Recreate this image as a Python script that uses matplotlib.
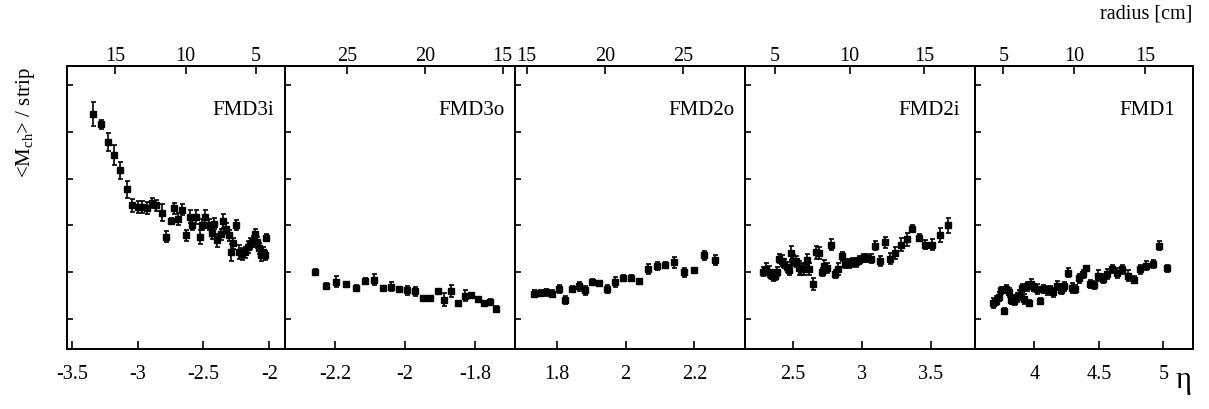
import matplotlib
matplotlib.use('Agg')
import matplotlib.pyplot as plt
from matplotlib.ticker import FormatStrFormatter

# Times-like serif font, ROOT style
plt.rcParams['font.family'] = ['Liberation Serif', 'DejaVu Serif']
plt.rcParams['mathtext.fontset'] = 'custom'
plt.rcParams['mathtext.rm'] = 'Liberation Serif'
plt.rcParams['axes.unicode_minus'] = False

# ============ data (eta, <M_ch>/strip in arbitrary units, error) ============
names = ['FMD3i', 'FMD3o', 'FMD2o', 'FMD2i', 'FMD1']

eta_fmd3i = [-3.336, -3.281, -3.228, -3.177, -3.130, -3.082, -3.044, -2.996, -2.963, -2.928,
             -2.888, -2.857, -2.815, -2.782, -2.749, -2.722, -2.691, -2.661, -2.636, -2.606,
             -2.585, -2.560, -2.530, -2.510, -2.485, -2.462, -2.439, -2.417, -2.394, -2.369,
             -2.349, -2.329, -2.306, -2.288, -2.273, -2.253, -2.228, -2.208, -2.188, -2.165,
             -2.147, -2.127, -2.107, -2.092, -2.077, -2.062, -2.046, -2.036, -2.024]
mult_fmd3i = [5.38, 5.16, 4.79, 4.50, 4.18, 3.77, 3.43, 3.39, 3.39, 3.38,
              3.48, 3.43, 3.27, 2.76, 3.09, 3.37, 3.14, 3.34, 2.79, 3.19,
              3.02, 3.19, 2.76, 3.02, 3.19, 3.02, 2.84, 3.04, 2.68, 2.81,
              3.09, 2.93, 2.79, 2.43, 2.62, 3.01, 2.43, 2.39, 2.43, 2.54,
              2.61, 2.66, 2.81, 2.64, 2.51, 2.36, 2.44, 2.36, 2.74]
err_fmd3i = [0.26, 0.10, 0.19, 0.21, 0.18, 0.18, 0.14, 0.13, 0.13, 0.13,
             0.10, 0.12, 0.18, 0.12, 0.06, 0.12, 0.12, 0.12, 0.12, 0.13,
             0.12, 0.15, 0.15, 0.12, 0.15, 0.12, 0.12, 0.12, 0.14, 0.12,
             0.15, 0.12, 0.12, 0.18, 0.12, 0.10, 0.15, 0.12, 0.12, 0.12,
             0.12, 0.12, 0.12, 0.12, 0.12, 0.12, 0.10, 0.10, 0.08]

eta_fmd3o = [-2.257, -2.227, -2.197, -2.169, -2.141, -2.116, -2.090, -2.064, -2.040, -2.017,
             -1.995, -1.972, -1.950, -1.929, -1.907, -1.888, -1.868, -1.848, -1.829, -1.811,
             -1.793, -1.775, -1.758, -1.740]
mult_fmd3o = [2.00, 1.71, 1.80, 1.74, 1.66, 1.81, 1.84, 1.66, 1.69, 1.64,
              1.61, 1.59, 1.44, 1.44, 1.59, 1.41, 1.60, 1.34, 1.50, 1.51,
              1.43, 1.34, 1.36, 1.21]
err_fmd3o = [0.06, 0.05, 0.12, 0.06, 0.06, 0.06, 0.12, 0.05, 0.10, 0.05,
             0.10, 0.10, 0.06, 0.05, 0.06, 0.14, 0.12, 0.05, 0.12, 0.05,
             0.05, 0.05, 0.06, 0.07]

eta_fmd2o = [1.734, 1.752, 1.769, 1.787, 1.806, 1.824, 1.844, 1.864, 1.883, 1.904,
             1.924, 1.947, 1.970, 1.993, 2.015, 2.040, 2.065, 2.090, 2.116, 2.142,
             2.170, 2.199, 2.229, 2.261]
mult_fmd2o = [1.54, 1.56, 1.57, 1.54, 1.64, 1.41, 1.64, 1.70, 1.61, 1.79,
              1.77, 1.64, 1.79, 1.88, 1.88, 1.81, 2.07, 2.13, 2.16, 2.21,
              2.00, 2.04, 2.36, 2.26]
err_fmd2o = [0.07, 0.06, 0.08, 0.07, 0.09, 0.09, 0.06, 0.10, 0.10, 0.06,
             0.05, 0.08, 0.11, 0.06, 0.06, 0.05, 0.10, 0.09, 0.05, 0.12,
             0.10, 0.06, 0.09, 0.10]

eta_fmd2i = [2.287, 2.307, 2.326, 2.343, 2.360, 2.374, 2.389, 2.401, 2.420, 2.439,
             2.456, 2.473, 2.488, 2.504, 2.524, 2.543, 2.562, 2.582, 2.601, 2.620,
             2.644, 2.668, 2.688, 2.709, 2.729, 2.750, 2.777, 2.806, 2.827, 2.854,
             2.880, 2.905, 2.931, 2.958, 2.982, 3.006, 3.030, 3.064, 3.095, 3.131,
             3.165, 3.203, 3.242, 3.281, 3.324, 3.365, 3.413, 3.459, 3.507, 3.563,
             3.620]
mult_fmd2i = [2.01, 2.07, 2.01, 1.95, 1.91, 1.93, 2.01, 2.29, 2.25, 2.18,
              2.11, 2.04, 2.41, 2.25, 2.23, 2.09, 2.07, 2.06, 2.27, 2.07,
              1.75, 2.43, 2.41, 2.00, 2.14, 2.09, 2.59, 1.96, 2.07, 2.34,
              2.18, 2.19, 2.21, 2.21, 2.26, 2.30, 2.30, 2.29, 2.57, 2.24,
              2.64, 2.29, 2.41, 2.59, 2.70, 2.93, 2.74, 2.59, 2.59, 2.79,
              3.00]
err_fmd2i = [0.10, 0.12, 0.12, 0.10, 0.10, 0.10, 0.10, 0.10, 0.12, 0.10,
             0.10, 0.10, 0.15, 0.12, 0.12, 0.14, 0.12, 0.12, 0.12, 0.12,
             0.12, 0.14, 0.12, 0.08, 0.12, 0.10, 0.12, 0.08, 0.12, 0.10,
             0.10, 0.10, 0.10, 0.10, 0.08, 0.08, 0.08, 0.10, 0.10, 0.10,
             0.12, 0.12, 0.12, 0.14, 0.14, 0.08, 0.08, 0.10, 0.12, 0.15,
             0.17]

eta_fmd1 = [3.682, 3.703, 3.723, 3.744, 3.765, 3.780, 3.801, 3.822, 3.842, 3.863,
            3.884, 3.902, 3.922, 3.941, 3.961, 3.977, 3.997, 4.018, 4.044, 4.070,
            4.096, 4.121, 4.147, 4.178, 4.204, 4.230, 4.258, 4.289, 4.318, 4.344,
            4.375, 4.400, 4.431, 4.463, 4.496, 4.530, 4.561, 4.600, 4.638, 4.680,
            4.726, 4.773, 4.819, 4.866, 4.917, 4.969, 5.031]
mult_fmd1 = [1.34, 1.39, 1.48, 1.61, 1.18, 1.64, 1.57, 1.41, 1.39, 1.46,
             1.51, 1.66, 1.43, 1.70, 1.34, 1.75, 1.67, 1.64, 1.39, 1.64,
             1.61, 1.63, 1.57, 1.71, 1.61, 1.70, 1.99, 1.66, 1.64, 1.87,
             1.96, 2.08, 1.75, 1.73, 1.93, 1.86, 1.96, 2.07, 1.98, 2.06,
             1.93, 1.84, 2.06, 2.14, 2.18, 2.57, 2.08]
err_fmd1 = [0.10, 0.10, 0.10, 0.08, 0.06, 0.08, 0.10, 0.10, 0.10, 0.10,
            0.10, 0.08, 0.10, 0.10, 0.06, 0.10, 0.08, 0.10, 0.06, 0.08,
            0.10, 0.08, 0.10, 0.10, 0.08, 0.10, 0.10, 0.10, 0.08, 0.10,
            0.08, 0.06, 0.08, 0.08, 0.12, 0.10, 0.10, 0.08, 0.10, 0.10,
            0.12, 0.08, 0.10, 0.10, 0.08, 0.10, 0.08]

# ============ layout per panel ============
rects = [[0.0557, 0.1463, 0.1801, 0.6903],
         [0.2357, 0.1463, 0.1902, 0.6903],
         [0.4260, 0.1463, 0.1902, 0.6903],
         [0.6162, 0.1463, 0.1902, 0.6903],
         [0.8065, 0.1463, 0.1801, 0.6903]]
eta_lims = [(-3.533, -1.881), (-2.344, -1.686), (1.679, 2.347), (2.155, 3.818), (3.540, 5.228)]
eta_ticks = [[-3.5, -3, -2.5, -2], [-2.2, -2, -1.8], [1.8, 2, 2.2], [2.5, 3, 3.5], [4, 4.5, 5]]
r_lims = [(18.4, 2.94), (28.97, 14.21), (14.25, 28.94), (2.99, 18.4), (3.0, 18.37)]
r_ticks = [[15, 10, 5], [25, 20, 15], [15, 20, 25], [5, 10, 15], [5, 10, 15]]

etas = [eta_fmd3i, eta_fmd3o, eta_fmd2o, eta_fmd2i, eta_fmd1]
mults = [mult_fmd3i, mult_fmd3o, mult_fmd2o, mult_fmd2i, mult_fmd1]
errs = [err_fmd3i, err_fmd3o, err_fmd2o, err_fmd2i, err_fmd1]

fig = plt.figure(figsize=(12.09, 4.10), dpi=100)

for i in range(5):
    ax = fig.add_axes(rects[i])
    ax.errorbar(etas[i], mults[i], yerr=errs[i], fmt='s', color='black', ms=5,
                elinewidth=1.2, capsize=1.8, capthick=1.2)
    ax.set_xlim(eta_lims[i])
    ax.set_ylim(0.358, 6.41)
    ax.set_yticks([1, 2, 3, 4, 5, 6])
    ax.set_yticklabels([])
    ax.set_xticks(eta_ticks[i])
    ax.xaxis.set_major_formatter(FormatStrFormatter('%g'))
    ax.tick_params(axis='x', direction='in', length=6, width=1.2, labelsize=14.5, pad=11, top=False)
    ax.tick_params(axis='y', direction='in', length=4, width=1.2, left=True, right=False)
    for s in ax.spines.values():
        s.set_linewidth(1.4)
    ax.text(0.665, 0.83, names[i], transform=ax.transAxes, fontsize=15, ha='left', va='baseline')

    # radius scale on top
    top = ax.twiny()
    top.set_xlim(r_lims[i])
    top.set_xticks(r_ticks[i])
    top.tick_params(axis='x', direction='in', length=6, width=1.2, labelsize=14.5, pad=1)
    for s in top.spines.values():
        s.set_linewidth(1.4)

fig.text(0.0215, 0.8366, '<M$_{\\rm ch}$> / strip', rotation=90, fontsize=15, ha='center', va='top')
fig.text(0.9865, 0.966, 'radius [cm]', fontsize=14.5, ha='right', va='center')
fig.text(0.9855, 0.073, 'η', fontsize=22, ha='right', va='center')

fig.savefig('out.png', dpi=100)
